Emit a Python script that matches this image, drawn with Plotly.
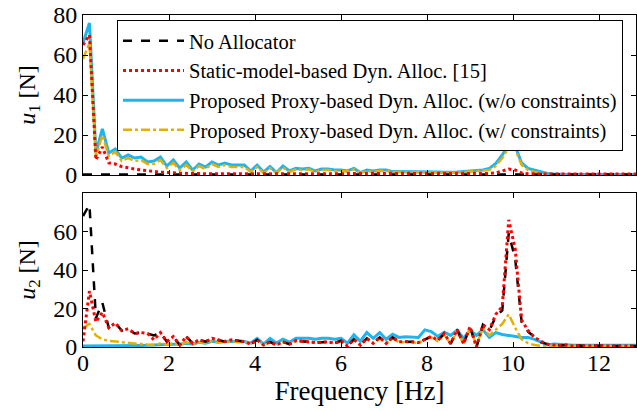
import plotly.graph_objects as go
from plotly.subplots import make_subplots

freq = [0.0, 0.15, 0.3, 0.45, 0.6, 0.75, 0.9, 1.05, 1.2, 1.35, 1.5, 1.65, 1.8, 1.95, 2.1, 2.25,
        2.4, 2.55, 2.7, 2.85, 3.0, 3.15, 3.3, 3.45, 3.6, 3.75, 3.9, 4.05, 4.2, 4.35, 4.5, 4.65,
        4.8, 4.95, 5.1, 5.25, 5.4, 5.55, 5.7, 5.85, 6.0, 6.15, 6.3, 6.45, 6.6, 6.75, 6.9, 7.05,
        7.2, 7.35, 7.5, 7.65, 7.8, 7.95, 8.1, 8.25, 8.4, 8.55, 8.7, 8.85, 9.0, 9.15, 9.3, 9.45,
        9.6, 9.75, 9.9, 10.05, 10.2, 10.35, 10.5, 10.65, 10.8, 10.95, 11.1, 11.25, 11.4, 11.55,
        11.7, 11.85, 12.0, 12.15, 12.3, 12.45, 12.6, 12.75, 12.9]

# ---- u1 panel ----
u1_none = [0.2, 0.2, 0.2, 0.2, 0.2, 0.2, 0.2, 0.2, 0.2, 0.2, 0.2, 0.2, 0.2, 0.2, 0.2, 0.2,
           0.2, 0.2, 0.2, 0.2, 0.2, 0.2, 0.2, 0.2, 0.2, 0.2, 0.2, 0.2, 0.2, 0.2, 0.2, 0.2,
           0.2, 0.2, 0.2, 0.2, 0.2, 0.2, 0.2, 0.2, 0.2, 0.2, 0.2, 0.2, 0.2, 0.2, 0.2, 0.2,
           0.2, 0.2, 0.2, 0.2, 0.2, 0.2, 0.2, 0.2, 0.2, 0.2, 0.2, 0.2, 0.2, 0.2, 0.2, 0.2,
           0.2, 0.3, 0.5, 0.4, 0.2, 0.2, 0.2, 0.2, 0.2, 0.2, 0.2, 0.2, 0.2, 0.2,
           0.2, 0.2, 0.2, 0.2, 0.2, 0.2, 0.2, 0.2, 0.2]
u1_static = [65, 70, 7.5, 14, 6, 5.5, 4.2, 3.5, 3, 2.5, 2, 1.8, 1.4, 1.2, 1.0, 0.9,
             0.8, 0.7, 0.7, 0.6, 0.7, 0.6, 0.6, 0.6, 0.6, 0.6, 0.5, 0.6, 0.5, 0.6, 0.5, 0.6,
             0.5, 0.6, 0.6, 0.6, 0.5, 0.6, 0.6, 0.5, 0.5, 0.5, 0.6, 0.5, 0.5, 0.5, 0.5, 0.5,
             0.5, 0.5, 0.5, 0.5, 0.5, 0.5, 0.5, 0.5, 0.5, 0.5, 0.5, 0.5, 0.6, 0.6, 0.7, 0.8,
             1.0, 2.0, 3.0, 2.5, 1.0, 0.6, 0.5, 0.5, 0.5, 0.5, 0.5, 0.5, 0.5, 0.5,
             0.5, 0.5, 0.5, 0.5, 0.5, 0.5, 0.5, 0.5, 0.5]
u1_proxy = [66, 76, 11, 23, 11, 13, 8.5, 10, 8.5, 9, 6.5, 7, 9, 4.5, 7.5, 3.5,
            6.5, 2.5, 5.5, 4, 6.5, 5, 6, 5, 5, 5, 2, 5, 1.5, 4.2, 1.2, 4.5,
            2, 3.3, 3, 3.3, 2, 3, 3, 2.5, 2.5, 2, 3.3, 1.2, 2.5, 2, 2.5, 2.5,
            1.7, 1.7, 1.8, 1.7, 1.6, 1.6, 1.5, 1.5, 1.4, 1.3, 1.5, 1.8, 2, 2.5, 2.5, 3.3,
            5.8, 10, 15, 14.5, 6, 3.3, 2.5, 1.7, 0.8, 0.5, 0.3, 0.3, 0.3, 0.3,
            0.3, 0.3, 0.3, 0.3, 0.3, 0.3, 0.3, 0.3, 0.3]
u1_proxy_c = [58, 66, 9, 20, 9.5, 11.5, 7, 8.5, 7, 7.5, 5.5, 5.5, 7.5, 3.5, 6, 2.5,
              5, 1.8, 4.5, 3, 5.5, 4, 5, 4, 4, 4, 1.5, 4, 1, 3.5, 1, 3.8,
              1.5, 2.8, 2.5, 2.8, 1.5, 2.5, 2.5, 2, 2, 1.7, 2.8, 1, 2, 1.7, 2, 2,
              1.5, 1.5, 1.5, 1.4, 1.3, 1.3, 1.2, 1.2, 1.1, 1.1, 1.2, 1.5, 1.7, 2, 2, 2.5,
              4.5, 8.5, 13.5, 13, 5, 2.5, 1.5, 1, 0.6, 0.4, 0.4, 0.4, 0.4, 0.4,
              0.4, 0.4, 0.4, 0.4, 0.4, 0.4, 0.4, 0.4, 0.4]

# ---- u2 panel ----
u2_none = [68, 74, 15, 23, 10, 12.5, 8.5, 9.5, 7, 7.5, 7, 6, 7.5, 2.8, 5.4, 1.0,
           5.4, 1.9, 3.7, 2.8, 4.5, 3.5, 2.8, 3.7, 3.2, 2.8, 1.5, 3.7, 1, 2.7, 1, 2.7,
           1.5, 3.3, 3, 2.7, 2.3, 2.5, 2.7, 1.9, 3.3, 0.5, 4, 1, 4.5, 1.9, 5, 1.9,
           5, 2.7, 2.7, 2.7, 2.3, 4, 5.5, 3.5, 7, 1.7, 9, 1.7, 10.5, 0, 11.5, 8.5,
           16, 19, 59, 46, 13, 8, 5, 2.5, 1.5, 1, 0.8, 1, 0.5, 0.8,
           0.5, 0.7, 0.5, 0.6, 0.5, 0.6, 0.5, 0.5, 0.5]
u2_static = [3, 29, 13, 18, 10, 12.5, 8.5, 9.5, 7, 7.5, 7, 3.7, 7.5, 2.8, 5.4, 1.0,
             5.4, 1.9, 3.7, 2.8, 4.5, 3.5, 2.8, 3.7, 3.2, 2.8, 1.5, 3.7, 1, 2.7, 1, 2.7,
             1.5, 3.3, 3, 2.7, 2.3, 2.5, 2.7, 1.9, 3.3, 0.5, 4, 1, 4.5, 1.9, 5, 1.9,
             5, 2.7, 2.7, 2.7, 2.3, 4, 5.5, 3.5, 7, 1.7, 9, 1.7, 10.5, 0, 11.5, 9,
             17, 21, 66, 51, 14, 8.5, 5, 3, 1.5, 1, 0.8, 1, 0.5, 0.8,
             0.5, 0.7, 0.5, 0.6, 0.5, 0.6, 0.5, 0.5, 0.5]
u2_proxy = [0.5, 0.5, 0.5, 0.6, 0.6, 0.7, 0.7, 0.8, 0.8, 0.8, 0.9, 1, 1, 1.2, 1.5, 1.5,
            2, 1.5, 2.5, 2, 3, 2.5, 3, 3, 2.8, 2.8, 2, 4.5, 1.5, 4.5, 2, 4,
            2.5, 4.5, 4.5, 4.5, 4, 4.5, 4.5, 4, 4.5, 2, 6.3, 3, 7.5, 4.5, 7.5, 4,
            6.6, 5, 5.3, 5, 5, 8.9, 8, 5.5, 7.7, 6, 8.8, 4.5, 8.8, 6, 9, 5,
            7.5, 6.5, 6, 5.5, 5, 5, 4, 2.5, 1, 1.5, 1.2, 1, 0.9, 0.9,
            0.9, 0.9, 0.9, 0.9, 0.9, 0.9, 0.9, 0.9, 0.9]
u2_proxy_c = [10, 12, 6, 4, 3.2, 2.8, 2.5, 2, 1.8, 1.5, 1.2, 1, 1.9, 1.2, 2, 1,
              2.5, 1.5, 2.5, 2, 3, 2.5, 2.5, 3, 2.5, 2.5, 1.5, 3.5, 1, 2.5, 1, 2.7,
              1.5, 3, 3, 2.7, 2.3, 2.5, 2.7, 2, 3, 0.5, 4, 1, 4.5, 1.9, 4.5, 2,
              4.5, 2.5, 2.5, 2.5, 2, 4, 5, 3, 6.5, 1.5, 8.5, 1.5, 10, 1, 10, 6,
              9, 12, 17, 10, 4, 2, 1, 0.5, 0.3, 0.8, 0.5, 0.5, 0.5, 0.5,
              0.5, 0.5, 0.5, 0.5, 0.5, 0.5, 0.5, 0.5, 0.5]

names = ["No Allocator", "Static-model-based Dyn. Alloc. [15]",
         "Proposed Proxy-based Dyn. Alloc. (w/o constraints)",
         "Proposed Proxy-based Dyn. Alloc. (w/ constraints)"]
x_ticks = [0, 2, 4, 6, 8, 10, 12]
u1_ticks = [0, 20, 40, 60, 80]
u2_ticks = [0, 20, 40, 60]

BLUE = "#1EB4F0"
YELLOW = "#E3B000"
styles = {
    0: dict(color="black", dash="dash", width=2.5),
    1: dict(color="#FF0000", dash="dot", width=3),
    2: dict(color=BLUE, dash="solid", width=3),
    3: dict(color=YELLOW, dash="dashdot", width=2.5),
}

fig = make_subplots(rows=2, cols=1, shared_xaxes=False)

draw_order = [2, 3, 0, 1]
top = [u1_none, u1_static, u1_proxy, u1_proxy_c]
bot = [u2_none, u2_static, u2_proxy, u2_proxy_c]
for k in draw_order:
    fig.add_trace(go.Scatter(x=freq, y=top[k], mode="lines", name=names[k], line=styles[k],
                             legendrank=k + 1, showlegend=True), row=1, col=1)
for k in draw_order:
    fig.add_trace(go.Scatter(x=freq, y=bot[k], mode="lines", name=names[k], line=styles[k],
                             showlegend=False), row=2, col=1)

FONT = "Liberation Serif, Times New Roman, serif"
W, H = 637, 411
t_m, b_m, l_m, r_m = 15, 411 - 347, 83, 1
ph = H - t_m - b_m

axis_common = dict(showline=True, linecolor="black", linewidth=1, mirror="ticks",
                   ticks="inside", ticklen=5, tickcolor="black", showgrid=False, zeroline=False,
                   ticklabeloverflow="allow",
                   tickfont=dict(family=FONT, size=24, color="black"))

fig.update_xaxes(range=[0, 12.86], tickvals=x_ticks, **axis_common)
fig.update_xaxes(showticklabels=False, row=1, col=1)
fig.update_xaxes(ticklabelstandoff=-6,
                 title=dict(text="Frequency [Hz]", font=dict(family=FONT, size=27, color="black"),
                            standoff=0), row=2, col=1)
fig.update_yaxes(**axis_common)
fig.update_yaxes(range=[0, 80], tickvals=u1_ticks,
                 title=dict(text="<i>u</i><sub>1</sub> [N]", font=dict(family=FONT, size=24, color="black"),
                            standoff=10), row=1, col=1)
fig.update_yaxes(range=[0, 80], tickvals=u2_ticks,
                 title=dict(text="<i>u</i><sub>2</sub> [N]", font=dict(family=FONT, size=24, color="black"),
                            standoff=10), row=2, col=1)

fig.update_layout(
    width=W, height=H,
    margin=dict(l=l_m, r=r_m, t=t_m, b=b_m, autoexpand=False),
    paper_bgcolor="white", plot_bgcolor="white",
    yaxis=dict(domain=[(347 - 175) / ph, 1.0]),
    yaxis2=dict(domain=[0.0, (347 - 193) / ph]),
    xaxis=dict(domain=[0, 1]), xaxis2=dict(domain=[0, 1]),
    legend=dict(x=(117 - 83) / (W - l_m - r_m), y=(347 - 20) / ph, xanchor="left", yanchor="top",
                bgcolor="white", bordercolor="black", borderwidth=1,
                font=dict(family=FONT, size=20.5, color="black"),
                itemwidth=61, tracegroupgap=0),
    showlegend=True,
)

fig.write_html("out.html", config={"displayModeBar": False},
               post_script="document.body.style.margin='0px';")
